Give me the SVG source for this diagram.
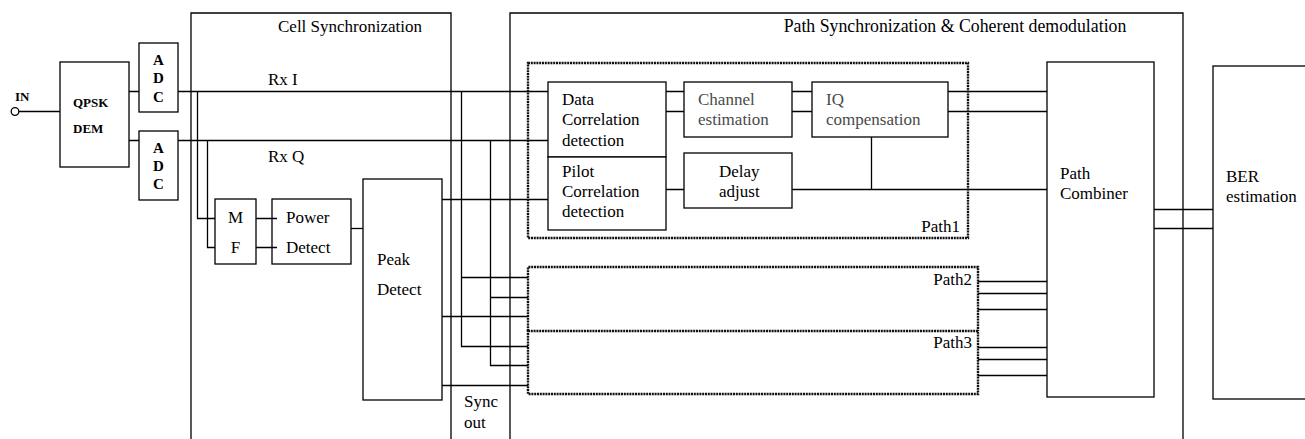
<svg xmlns="http://www.w3.org/2000/svg" width="1305" height="439" viewBox="0 0 1305 439" font-family="'Liberation Serif', 'Times New Roman', 'DejaVu Serif', serif">
<style>
.bx{fill:#fff;stroke:#000;stroke-width:1.3}
.fr{fill:none;stroke:#000;stroke-width:1.3}
.ds{fill:none;stroke:#111;stroke-width:2.4;stroke-dasharray:2 0.8}
.ln{fill:none;stroke:#000;stroke-width:1.3}
text{font-family:'Liberation Serif','Times New Roman','DejaVu Serif',serif;font-size:17px;fill:#000}
.sm{font-size:13px;font-weight:bold}
.adc{font-size:15px;font-weight:bold;text-anchor:middle}
.gr{fill:#4a4a4a}
.e{text-anchor:end}
.m{text-anchor:middle}
</style>
<rect width="1305" height="439" fill="#fff"/>

<g id="cell-sync">
<path class="fr" d="M191,445 V13 H451 V445"/>
<text x="278" y="32">Cell Synchronization</text>
</g>
<g id="path-sync">
<path class="fr" d="M510,445 V13 H1183 V445"/>
<text x="955" y="32" class="m" style="font-size:17.8px">Path Synchronization &amp; Coherent demodulation</text>
</g>
<g id="sync-out">
<text x="464" y="407">Sync</text>
<text x="464" y="428">out</text>
</g>

<g id="connectors">
<path class="ln" d="M19,111.5 H60"/>
<path class="ln" d="M129,91.5 H139 M129,140.5 H139"/>
<path class="ln" d="M178,91.5 H548 M178,140.5 H548"/>
<path class="ln" d="M197.5,91.5 V218.5 H215 M207.5,140.5 V247.5 H215"/>
<path class="ln" d="M256,218.5 H277 M256,247.5 H277"/>
<path class="ln" d="M351,228.5 H363"/>
<path class="ln" d="M442,199.5 H548 M442,316.5 H528 M442,385.5 H528"/>
<path class="ln" d="M461.5,91.5 V346.5 H528 M461.5,277.5 H528"/>
<path class="ln" d="M490.5,140.5 V365.5 H528 M490.5,297.5 H528"/>
<path class="ln" d="M666,91.5 H684 M666,111.5 H684 M792,91.5 H812 M792,111.5 H812"/>
<path class="ln" d="M948,91.5 H1047 M948,111.5 H1047"/>
<path class="ln" d="M666,189.5 H684 M792,189.5 H1047 M871.5,137 V189.5"/>
<path class="ln" d="M978,281.5 H1047 M978,293.5 H1047 M978,309.5 H1047"/>
<path class="ln" d="M978,347.5 H1047 M978,359.5 H1047 M978,375.5 H1047"/>
<path class="ln" d="M1154,209.5 H1213 M1154,228.5 H1213"/>
</g>

<g id="in">
<circle cx="15" cy="111.5" r="3.8" fill="#fff" stroke="#000" stroke-width="1.3"/>
<text x="15" y="101" class="sm">IN</text>
</g>
<g id="qpsk-dem">
<rect class="bx" x="60" y="62" width="69" height="105"/>
<text x="73" y="107" class="sm">QPSK</text>
<text x="73" y="133" class="sm">DEM</text>
</g>
<g id="adc-i">
<rect class="bx" x="139" y="43" width="39" height="69"/>
<text x="158.5" y="65" class="adc">A</text>
<text x="158.5" y="83" class="adc">D</text>
<text x="158.5" y="102" class="adc">C</text>
</g>
<g id="adc-q">
<rect class="bx" x="139" y="131" width="39" height="69"/>
<text x="158.5" y="153" class="adc">A</text>
<text x="158.5" y="171" class="adc">D</text>
<text x="158.5" y="189" class="adc">C</text>
</g>
<g id="rx-labels">
<text x="268" y="85">Rx I</text>
<text x="268" y="162">Rx Q</text>
</g>
<g id="mf">
<rect class="bx" x="215" y="199" width="41" height="65"/>
<text x="235.5" y="223" class="m">M</text>
<text x="235.5" y="253" class="m">F</text>
</g>
<g id="power-detect">
<rect class="fr" x="272" y="199" width="79" height="65"/>
<text x="286" y="223">Power</text>
<text x="286" y="253">Detect</text>
</g>
<g id="peak-detect">
<rect class="bx" x="363" y="179" width="79" height="221"/>
<text x="377" y="265">Peak</text>
<text x="377" y="295">Detect</text>
</g>

<g id="path1">
<rect class="ds" x="528" y="63" width="440" height="175"/>
<text x="960" y="232" class="e">Path1</text>
</g>
<g id="data-corr">
<rect class="bx" x="548" y="82" width="118" height="75"/>
<text x="562" y="105">Data</text>
<text x="562" y="125">Correlation</text>
<text x="562" y="146">detection</text>
</g>
<g id="pilot-corr">
<rect class="bx" x="548" y="157" width="118" height="73"/>
<text x="562" y="177">Pilot</text>
<text x="562" y="197">Correlation</text>
<text x="562" y="217">detection</text>
</g>
<g id="channel-est">
<rect class="bx" x="684" y="82" width="108" height="55"/>
<text x="698" y="105" class="gr">Channel</text>
<text x="698" y="125" class="gr">estimation</text>
</g>
<g id="iq-comp">
<rect class="bx" x="812" y="82" width="136" height="55"/>
<text x="826" y="105" class="gr">IQ</text>
<text x="826" y="125" class="gr">compensation</text>
</g>
<g id="delay-adjust">
<rect class="bx" x="684" y="153" width="108" height="55"/>
<text x="719" y="177">Delay</text>
<text x="719" y="197">adjust</text>
</g>

<g id="path2">
<path class="ds" d="M528,331 V267 H978 V331"/>
<text x="972" y="285" class="e">Path2</text>
</g>
<g id="path3">
<rect class="ds" x="528" y="331" width="450" height="63"/>
<text x="972" y="348" class="e">Path3</text>
</g>

<g id="path-combiner">
<rect class="bx" x="1047" y="62" width="107" height="335"/>
<text x="1060" y="179">Path</text>
<text x="1060" y="199">Combiner</text>
</g>
<g id="ber">
<rect class="bx" x="1213" y="66" width="110" height="333"/>
<text x="1226" y="182">BER</text>
<text x="1226" y="202">estimation</text>
</g>
</svg>
